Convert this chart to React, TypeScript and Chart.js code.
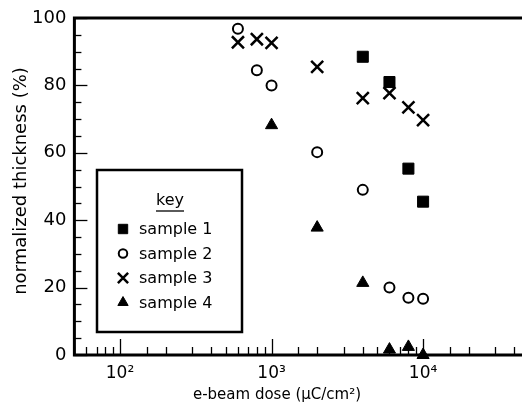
import React, { useEffect, useRef } from 'react';
import { Chart, registerables } from 'chart.js';
import { drawPoint } from 'chart.js/helpers';

Chart.register(...registerables);

// ---- data ----
const doses1 = [4000, 6000, 8000, 10000];
const sample1 = [88.5, 81.0, 55.3, 45.5];
const doses2 = [600, 800, 1000, 2000, 4000, 6000, 8000, 10000];
const sample2 = [96.8, 84.5, 80.0, 60.2, 49.0, 20.0, 17.0, 16.7];
const doses3 = [600, 800, 1000, 2000, 4000, 6000, 8000, 10000];
const sample3 = [92.8, 93.7, 92.6, 85.5, 76.2, 77.7, 73.5, 69.7];
const doses4 = [1000, 2000, 4000, 6000, 8000, 10000];
const sample4 = [68.2, 37.8, 21.4, 1.6, 2.4, 0.0];
const seriesLabels = ['sample 1', 'sample 2', 'sample 3', 'sample 4'];
const xMin = 50;
const xMax = 50000;
const yMin = 0;
const yMax = 100;
const yMajorStep = 20;
const yMinorStep = 5;
const decadeLabels: Record<number, string> = { 100: '10\u00B2', 1000: '10\u00B3', 10000: '10\u2074' };
const xTitle = 'e-beam dose (\u03BCC/cm\u00B2)';
const yTitle = 'normalized thickness (%)';
const keyTitle = 'key';

const FONT = "'DejaVu Sans', sans-serif";

const toPts = (xs: number[], ys: number[]) => xs.map((x, i) => ({ x, y: ys[i] }));

const isDecade = (v: number) => {
  const l = Math.log10(v);
  return Math.abs(l - Math.round(l)) < 1e-6;
};

const framePlugin = {
  id: 'frame',
  beforeDatasetsDraw(chart: any) {
    const { ctx, chartArea: a, scales } = chart;
    const x = scales.x;
    const y = scales.y;
    ctx.save();
    ctx.strokeStyle = '#000';
    ctx.lineCap = 'butt';
    ctx.lineWidth = 1.3;
    // y ticks (inward)
    for (let v = yMin; v <= yMax; v += yMinorStep) {
      const py = Math.round(y.getPixelForValue(v)) + 0.5;
      const len = v % yMajorStep === 0 ? 13 : 7;
      ctx.beginPath();
      ctx.moveTo(a.left, py);
      ctx.lineTo(a.left + len, py);
      ctx.stroke();
    }
    // x ticks (inward)
    for (const t of x.ticks) {
      const px = Math.round(x.getPixelForValue(t.value)) + 0.5;
      const len = isDecade(t.value) ? 16 : 8;
      ctx.beginPath();
      ctx.moveTo(px, a.bottom);
      ctx.lineTo(px, a.bottom - len);
      ctx.stroke();
    }
    // axis lines
    ctx.lineWidth = 3;
    ctx.beginPath();
    ctx.moveTo(a.left, a.top);
    ctx.lineTo(a.left, a.bottom);
    ctx.moveTo(a.left - 1.5, a.bottom);
    ctx.lineTo(chart.width, a.bottom);
    ctx.moveTo(a.left - 1.5, a.top);
    ctx.lineTo(chart.width, a.top);
    ctx.stroke();
    ctx.restore();
  },
  afterDraw(chart: any) {
    const { ctx } = chart;
    ctx.save();
    ctx.fillStyle = '#000';
    ctx.strokeStyle = '#000';
    // axis titles
    ctx.textAlign = 'center';
    ctx.textBaseline = 'middle';
    ctx.font = `15px ${FONT}`;
    ctx.fillText(xTitle, 277, 395);
    ctx.save();
    ctx.font = `18px ${FONT}`;
    ctx.translate(21, 181);
    ctx.rotate(-Math.PI / 2);
    ctx.fillText(yTitle, 0, 0);
    ctx.restore();

    // key box
    const box = { left: 97, top: 170, right: 242, bottom: 332 };
    ctx.fillStyle = '#fff';
    ctx.fillRect(box.left, box.top, box.right - box.left, box.bottom - box.top);
    ctx.lineWidth = 2.5;
    ctx.strokeRect(box.left, box.top, box.right - box.left, box.bottom - box.top);
    ctx.fillStyle = '#000';
    ctx.font = `16px ${FONT}`;
    ctx.textAlign = 'center';
    ctx.textBaseline = 'middle';
    const cx = 170;
    ctx.fillText(keyTitle, cx, 201);
    const w = ctx.measureText(keyTitle).width;
    ctx.lineWidth = 1.3;
    ctx.beginPath();
    ctx.moveTo(cx - w / 2, 211);
    ctx.lineTo(cx + w / 2, 211);
    ctx.stroke();

    ctx.font = `16px ${FONT}`;
    ctx.textAlign = 'left';
    chart.data.datasets.forEach((ds: any, i: number) => {
      const ry = 229 + i * 24.5;
      ctx.save();
      ctx.fillStyle = ds.backgroundColor;
      ctx.strokeStyle = ds.borderColor;
      ctx.lineWidth = ds.borderWidth;
      drawPoint(ctx, { pointStyle: ds.pointStyle, radius: ds.pointRadius * 0.85, rotation: 0, borderWidth: ds.borderWidth } as any, 123, ry);
      ctx.restore();
      ctx.fillStyle = '#000';
      ctx.fillText(ds.label, 139, ry + 1);
    });
    ctx.restore();
  },
};

export default function App() {
  const ref = useRef<HTMLCanvasElement>(null);
  useEffect(() => {
    if (!ref.current) return;
    const chart = new Chart(ref.current, {
      type: 'scatter',
      data: {
        datasets: [
          { label: seriesLabels[0], data: toPts(doses1, sample1), pointStyle: 'rect', pointRadius: 7.8, backgroundColor: '#000', borderColor: '#000', borderWidth: 1, clip: false } as any,
          { label: seriesLabels[1], data: toPts(doses2, sample2), pointStyle: 'circle', pointRadius: 5, backgroundColor: '#fff', borderColor: '#000', borderWidth: 2, clip: false } as any,
          { label: seriesLabels[2], data: toPts(doses3, sample3), pointStyle: 'crossRot', pointRadius: 8.5, backgroundColor: '#000', borderColor: '#000', borderWidth: 2.5, clip: false } as any,
          { label: seriesLabels[3], data: toPts(doses4, sample4), pointStyle: 'triangle', pointRadius: 7, backgroundColor: '#000', borderColor: '#000', borderWidth: 1, clip: false } as any,
        ],
      },
      options: {
        responsive: false,
        animation: false,
        events: [],
        layout: { autoPadding: false, padding: { top: 18, left: 0, right: 0, bottom: 0 } },
        plugins: { legend: { display: false }, tooltip: { enabled: false }, title: { display: false } },
        scales: {
          x: {
            type: 'logarithmic',
            bounds: 'data',
            min: xMin,
            max: xMax,
            grid: { display: false, drawTicks: false },
            border: { display: false },
            ticks: {
              autoSkip: false,
              maxRotation: 0,
              padding: 8,
              color: '#000',
              font: { family: FONT, size: 17 },
              callback: (v: any) => decadeLabels[Number(v)] ?? '',
            },
            afterFit: (s: any) => { s.height = 53; s.paddingLeft = 0; s.paddingRight = 0; },
          },
          y: {
            min: yMin,
            max: yMax,
            grid: { display: false, drawTicks: false },
            border: { display: false },
            ticks: {
              stepSize: yMajorStep,
              padding: 8,
              color: '#000',
              font: { family: FONT, size: 18 },
            },
            afterFit: (s: any) => { s.width = 74.4; s.paddingTop = 0; s.paddingBottom = 0; },
          },
        },
      },
      plugins: [framePlugin],
    });
    return () => chart.destroy();
  }, []);
  return (
    <div style={{ position: 'fixed', left: 0, top: 0, width: 522, height: 408, overflow: 'hidden', background: '#fff' }}>
      <canvas ref={ref} width={529} height={408} style={{ display: 'block' }} />
    </div>
  );
}
